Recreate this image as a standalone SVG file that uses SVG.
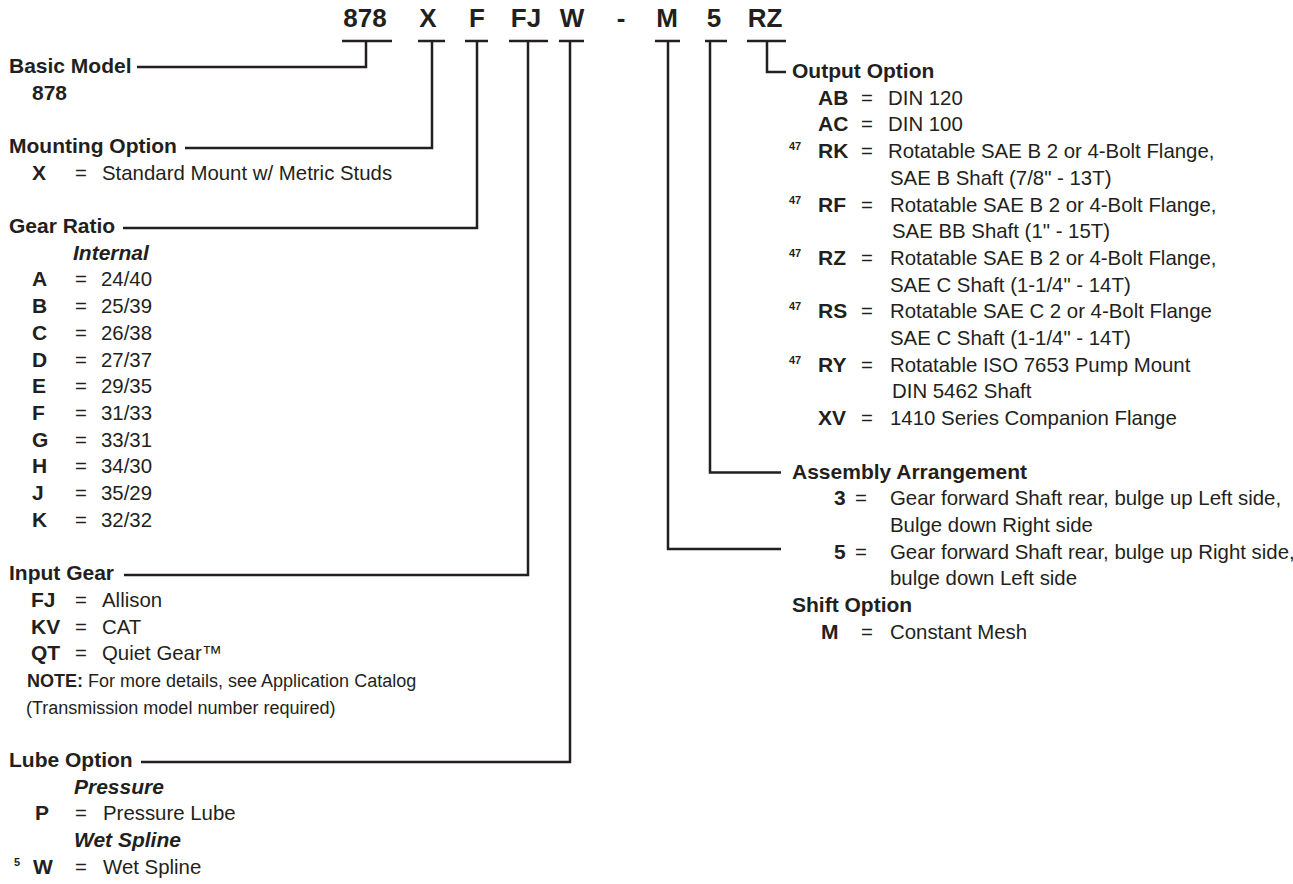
<svg xmlns="http://www.w3.org/2000/svg" width="1293" height="884" viewBox="0 0 1293 884">
<style>
text{font-family:"Liberation Sans",Arial,sans-serif;fill:#231f20}
.hd{font-size:26px;font-weight:bold}
.h{font-size:21px;font-weight:bold}
.c{font-size:21px;font-weight:bold}
.d{font-size:20.4px}
.n{font-size:18px}
.i{font-size:21px;font-weight:bold;font-style:italic}
.s{font-size:11px;font-weight:bold}
.ln{fill:none;stroke:#231f20;stroke-width:2.5}
</style>
<rect width="1293" height="884" fill="#fff"/>
<g id="header">
<text class="hd" x="365" y="27" text-anchor="middle">878</text>
<text class="hd" x="428" y="27" text-anchor="middle">X</text>
<text class="hd" x="477" y="27" text-anchor="middle">F</text>
<text class="hd" x="526" y="27" text-anchor="middle">FJ</text>
<text class="hd" x="572" y="27" text-anchor="middle">W</text>
<text class="hd" x="621" y="27" text-anchor="middle">-</text>
<text class="hd" x="667" y="27" text-anchor="middle">M</text>
<text class="hd" x="714" y="27" text-anchor="middle">5</text>
<text class="hd" x="765" y="27" text-anchor="middle">RZ</text>
</g>
<g id="connectors">
<path class="ln" d="M342 41H392M366 41V67H137"/>
<path class="ln" d="M418 41H445M432 41V148H185"/>
<path class="ln" d="M465 41H488M477 41V228H123"/>
<path class="ln" d="M509 41H548M528 41V575H124"/>
<path class="ln" d="M559 41H584M570 41V762H141"/>
<path class="ln" d="M655 41H680M668 41V549H781"/>
<path class="ln" d="M705 41H727M710 41V472.5H781"/>
<path class="ln" d="M747 41H786M767 41V72H786"/>
</g>
<g id="basic-model">
<text class="h" x="9" y="73">Basic Model</text>
<text class="c" x="32" y="99.7">878</text>
</g>
<g id="mounting-option">
<text class="h" x="9" y="153">Mounting Option</text>
<text class="c" x="32" y="179.7">X</text><text class="d" x="75" y="179.7">=</text><text class="d" x="102" y="179.7">Standard Mount w/ Metric Studs</text>
</g>
<g id="gear-ratio">
<text class="h" x="9" y="233">Gear Ratio</text>
<text class="i" x="73" y="259.7">Internal</text>
<text class="c" x="32" y="286.4">A</text><text class="d" x="75" y="286.4">=</text><text class="d" x="101" y="286.4">24/40</text>
<text class="c" x="32" y="313.1">B</text><text class="d" x="75" y="313.1">=</text><text class="d" x="101" y="313.1">25/39</text>
<text class="c" x="32" y="339.8">C</text><text class="d" x="75" y="339.8">=</text><text class="d" x="101" y="339.8">26/38</text>
<text class="c" x="32" y="366.5">D</text><text class="d" x="75" y="366.5">=</text><text class="d" x="101" y="366.5">27/37</text>
<text class="c" x="32" y="393.2">E</text><text class="d" x="75" y="393.2">=</text><text class="d" x="101" y="393.2">29/35</text>
<text class="c" x="32" y="419.9">F</text><text class="d" x="75" y="419.9">=</text><text class="d" x="101" y="419.9">31/33</text>
<text class="c" x="32" y="446.6">G</text><text class="d" x="75" y="446.6">=</text><text class="d" x="101" y="446.6">33/31</text>
<text class="c" x="32" y="473.3">H</text><text class="d" x="75" y="473.3">=</text><text class="d" x="101" y="473.3">34/30</text>
<text class="c" x="32" y="500">J</text><text class="d" x="75" y="500">=</text><text class="d" x="101" y="500">35/29</text>
<text class="c" x="32" y="526.7">K</text><text class="d" x="75" y="526.7">=</text><text class="d" x="101" y="526.7">32/32</text>
</g>
<g id="input-gear">
<text class="h" x="9" y="580.1">Input Gear</text>
<text class="c" x="31" y="606.8">FJ</text><text class="d" x="75" y="606.8">=</text><text class="d" x="102" y="606.8">Allison</text>
<text class="c" x="31" y="633.5">KV</text><text class="d" x="75" y="633.5">=</text><text class="d" x="102" y="633.5">CAT</text>
<text class="c" x="31" y="660.2">QT</text><text class="d" x="75" y="660.2">=</text><text class="d" x="102" y="660.2">Quiet Gear™</text>
<text class="n" x="27" y="686.9"><tspan font-weight="bold">NOTE:</tspan> For more details, see Application Catalog</text>
<text class="n" x="26" y="713.6">(Transmission model number required)</text>
</g>
<g id="lube-option">
<text class="h" x="9" y="767">Lube Option</text>
<text class="i" x="74" y="793.7">Pressure</text>
<text class="c" x="35" y="820.4">P</text><text class="d" x="75" y="820.4">=</text><text class="d" x="103" y="820.4">Pressure Lube</text>
<text class="i" x="74" y="847.1">Wet Spline</text>
<text class="s" x="14" y="865.8">5</text>
<text class="c" x="33" y="873.8">W</text><text class="d" x="75" y="873.8">=</text><text class="d" x="103" y="873.8">Wet Spline</text>
</g>
<g id="output-option">
<text class="h" x="792" y="78">Output Option</text>
<text class="c" x="818" y="104.7">AB</text><text class="d" x="861" y="104.7">=</text><text class="d" x="888" y="104.7">DIN 120</text>
<text class="c" x="818" y="131.4">AC</text><text class="d" x="861" y="131.4">=</text><text class="d" x="888" y="131.4">DIN 100</text>
<text class="s" x="789" y="150.1">47</text>
<text class="c" x="818" y="158.1">RK</text><text class="d" x="861" y="158.1">=</text><text class="d" x="888" y="158.1">Rotatable SAE B 2 or 4-Bolt Flange,</text>
<text class="d" x="890" y="184.8">SAE B Shaft (7/8" - 13T)</text>
<text class="s" x="789" y="203.5">47</text>
<text class="c" x="818" y="211.5">RF</text><text class="d" x="861" y="211.5">=</text><text class="d" x="890" y="211.5">Rotatable SAE B 2 or 4-Bolt Flange,</text>
<text class="d" x="892" y="238.2">SAE BB Shaft (1" - 15T)</text>
<text class="s" x="789" y="256.9">47</text>
<text class="c" x="818" y="264.9">RZ</text><text class="d" x="861" y="264.9">=</text><text class="d" x="890" y="264.9">Rotatable SAE B 2 or 4-Bolt Flange,</text>
<text class="d" x="890" y="291.6">SAE C Shaft (1-1/4" - 14T)</text>
<text class="s" x="789" y="310.3">47</text>
<text class="c" x="818" y="318.3">RS</text><text class="d" x="861" y="318.3">=</text><text class="d" x="890" y="318.3">Rotatable SAE C 2 or 4-Bolt Flange</text>
<text class="d" x="890" y="345">SAE C Shaft (1-1/4" - 14T)</text>
<text class="s" x="789" y="363.7">47</text>
<text class="c" x="818" y="371.7">RY</text><text class="d" x="861" y="371.7">=</text><text class="d" x="890" y="371.7">Rotatable ISO 7653 Pump Mount</text>
<text class="d" x="892" y="398.4">DIN 5462 Shaft</text>
<text class="c" x="818" y="425.1">XV</text><text class="d" x="861" y="425.1">=</text><text class="d" x="890" y="425.1">1410 Series Companion Flange</text>
</g>
<g id="assembly-arrangement">
<text class="h" x="792" y="478.5">Assembly Arrangement</text>
<text class="c" x="834" y="505.2">3</text><text class="d" x="855" y="505.2">=</text><text class="d" x="890" y="505.2">Gear forward Shaft rear, bulge up Left side,</text>
<text class="d" x="890" y="531.9">Bulge down Right side</text>
<text class="c" x="834" y="558.6">5</text><text class="d" x="855" y="558.6">=</text><text class="d" x="890" y="558.6">Gear forward Shaft rear, bulge up Right side,</text>
<text class="d" x="890" y="585.3">bulge down Left side</text>
</g>
<g id="shift-option">
<text class="h" x="792" y="612">Shift Option</text>
<text class="c" x="821" y="638.7">M</text><text class="d" x="861" y="638.7">=</text><text class="d" x="890" y="638.7">Constant Mesh</text>
</g>
</svg>
